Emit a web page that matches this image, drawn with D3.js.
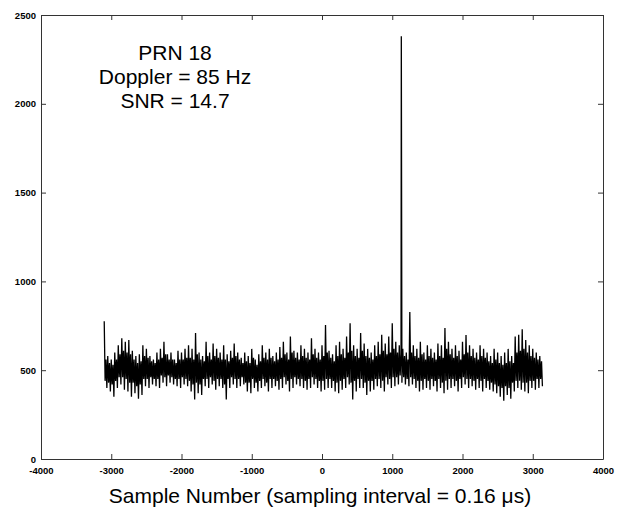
<!DOCTYPE html>
<html>
<head>
<meta charset="utf-8">
<script src="https://cdn.jsdelivr.net/npm/d3@7"></script>
<style>
  body { margin: 0; background: #fff; }
  svg { display: block; }
</style>
</head>
<body>
<svg class="chart"></svg>
<script>
// bins of 50 samples starting at -3100:
// highs / lows = spike tips, coreHigh / coreLow = edges of the dark band
var binStart = -3100
var binStep = 50
var highs = [
	775, 580, 560, 600, 640, 680, 660, 670, 610, 580,
	590, 640, 620, 580, 560, 600, 620, 660, 590, 600,
	560, 610, 600, 620, 640, 620, 710, 600, 580, 660,
	600, 650, 620, 600, 640, 590, 610, 650, 600, 570,
	600, 580, 620, 560, 590, 640, 600, 620, 580, 600,
	630, 660, 600, 690, 610, 600, 640, 620, 600, 680,
	620, 600, 640, 755, 610, 590, 640, 660, 620, 690,
	765, 640, 620, 710, 650, 620, 600, 640, 660, 700,
	650, 690, 765, 660, 640, 620, 600, 828, 640, 620,
	660, 600, 640, 620, 600, 650, 640, 737, 660, 620,
	640, 610, 660, 698, 640, 620, 600, 640, 620, 600,
	580, 620, 600, 580, 600, 620, 580, 690, 700, 730,
	670, 640, 620, 600, 580
]
var lows = [
	400, 380, 350, 400, 420, 390, 380, 350, 370, 340,
	360, 410, 400, 420, 410, 400, 430, 410, 430, 420,
	410, 400, 420, 410, 380, 335, 370, 360, 410, 400,
	420, 390, 410, 400, 335, 400, 420, 400, 410, 420,
	380, 370, 400, 380, 400, 410, 380, 400, 410, 390,
	400, 420, 380, 400, 420, 410, 400, 390, 400, 420,
	400, 380, 390, 400, 400, 380, 370, 390, 400, 420,
	335, 380, 400, 400, 360, 380, 390, 410, 400, 380,
	420, 400, 410, 420, 430, 420, 410, 420, 400, 380,
	390, 400, 390, 410, 380, 400, 370, 390, 400, 410,
	380, 400, 420, 400, 410, 390, 400, 380, 400, 390,
	380, 370, 350, 328, 360, 340, 380, 400, 390, 380,
	370, 400, 390, 400, 410
]
var coreHigh = [
	560, 540, 530, 560, 590, 610, 600, 590, 560, 540,
	550, 580, 570, 550, 540, 560, 570, 590, 560, 560,
	540, 560, 560, 570, 570, 560, 590, 560, 550, 580,
	560, 580, 570, 560, 560, 550, 570, 580, 560, 540,
	550, 540, 570, 530, 550, 570, 560, 570, 550, 560,
	570, 590, 560, 600, 570, 560, 580, 570, 560, 590,
	570, 560, 580, 600, 570, 550, 580, 590, 570, 600,
	610, 580, 570, 610, 580, 570, 560, 580, 590, 610,
	590, 600, 620, 600, 590, 580, 560, 600, 580, 570,
	590, 560, 580, 570, 560, 580, 570, 620, 590, 570,
	580, 560, 590, 600, 580, 570, 560, 580, 570, 550,
	540, 560, 540, 530, 540, 550, 540, 600, 610, 620,
	600, 580, 570, 560, 550
]
var coreLow = [
	440, 430, 420, 440, 460, 460, 450, 430, 430, 410,
	420, 450, 450, 460, 450, 450, 470, 460, 470, 460,
	450, 450, 460, 450, 440, 420, 430, 420, 450, 450,
	460, 440, 450, 450, 420, 450, 460, 450, 450, 460,
	430, 430, 450, 430, 440, 450, 430, 450, 450, 440,
	450, 460, 440, 450, 460, 450, 450, 440, 450, 460,
	450, 440, 440, 450, 450, 440, 430, 440, 450, 460,
	430, 440, 450, 450, 430, 440, 440, 450, 450, 440,
	460, 450, 460, 460, 470, 460, 450, 460, 450, 440,
	440, 450, 440, 450, 440, 450, 430, 440, 450, 450,
	440, 450, 460, 450, 450, 440, 450, 440, 450, 440,
	430, 420, 410, 400, 410, 400, 430, 440, 440, 430,
	430, 440, 440, 450, 450
]
var peakX = 1129
var peakValue = 2380

var xTicks = [-4000, -3000, -2000, -1000, 0, 1000, 2000, 3000, 4000]
var yTicks = [0, 500, 1000, 1500, 2000, 2500]
var notes = ["PRN 18", "Doppler = 85 Hz", "SNR = 14.7"]
var xTitle = "Sample Number (sampling interval = 0.16 \u03bcs)"

var width = 618
var height = 507
var margin = { top: 15, right: 15, bottom: 48, left: 41 }

var samples = []
highs.forEach(function (h, i) {
	var x0 = binStart + i * binStep
	samples.push({ x: x0, y: h })
	samples.push({ x: x0 + binStep * 0.25, y: coreLow[i] })
	samples.push({ x: x0 + binStep * 0.5, y: coreHigh[i] })
	samples.push({ x: x0 + binStep * 0.75, y: lows[i] })
})
samples.push({ x: peakX, y: peakValue })
samples.sort(function (a, b) {
	return a.x - b.x
})

var xScale = d3.scaleLinear().domain([-4000, 4000]).range([margin.left, width - margin.right])
var yScale = d3.scaleLinear().domain([0, 2500]).range([height - margin.bottom, margin.top])

var svg = d3.select(".chart").attr("width", width).attr("height", height)

var line = d3
	.line()
	.x(d => xScale(d.x))
	.y(d => yScale(d.y))

svg
	.append("path")
	.datum(samples)
	.attr("d", line)
	.attr("fill", "none")
	.attr("stroke", "#000")
	.attr("stroke-width", 1.3)

function styleAxis(g) {
	g.selectAll(".domain").attr("stroke", "#333")
	g.selectAll(".tick line").attr("stroke", "#333")
	g.selectAll("text")
		.attr("fill", "#000")
		.attr("font-family", "Liberation Sans, Arial, sans-serif")
		.attr("font-weight", "bold")
		.attr("font-size", "9.5px")
}

var fmt = d => String(d)

svg
	.append("g")
	.attr("transform", "translate(0," + yScale(0) + ")")
	.call(d3.axisBottom(xScale).tickValues(xTicks).tickFormat(fmt).tickSizeInner(-5).tickSizeOuter(0).tickPadding(8))
	.call(styleAxis)
svg
	.append("g")
	.attr("transform", "translate(0," + yScale(2500) + ")")
	.call(d3.axisTop(xScale).tickValues(xTicks).tickSizeInner(-5).tickSizeOuter(0).tickFormat(""))
	.call(styleAxis)
svg
	.append("g")
	.attr("transform", "translate(" + xScale(-4000) + ",0)")
	.call(d3.axisLeft(yScale).tickValues(yTicks).tickFormat(fmt).tickSizeInner(-5).tickSizeOuter(0).tickPadding(5))
	.call(styleAxis)
svg
	.append("g")
	.attr("transform", "translate(" + xScale(4000) + ",0)")
	.call(d3.axisRight(yScale).tickValues(yTicks).tickSizeInner(-5).tickSizeOuter(0).tickFormat(""))
	.call(styleAxis)

svg
	.selectAll(".note")
	.data(notes)
	.enter()
	.append("text")
	.attr("class", "note")
	.attr("x", 175)
	.attr("y", (d, i) => 60 + i * 24)
	.attr("text-anchor", "middle")
	.attr("font-family", "Liberation Sans, Arial, sans-serif")
	.attr("font-size", "21px")
	.text(d => d)

svg
	.append("text")
	.attr("x", 320)
	.attr("y", 503)
	.attr("text-anchor", "middle")
	.attr("font-family", "Liberation Sans, Arial, sans-serif")
	.attr("font-size", "21px")
	.text(xTitle)
</script>
</body>
</html>
